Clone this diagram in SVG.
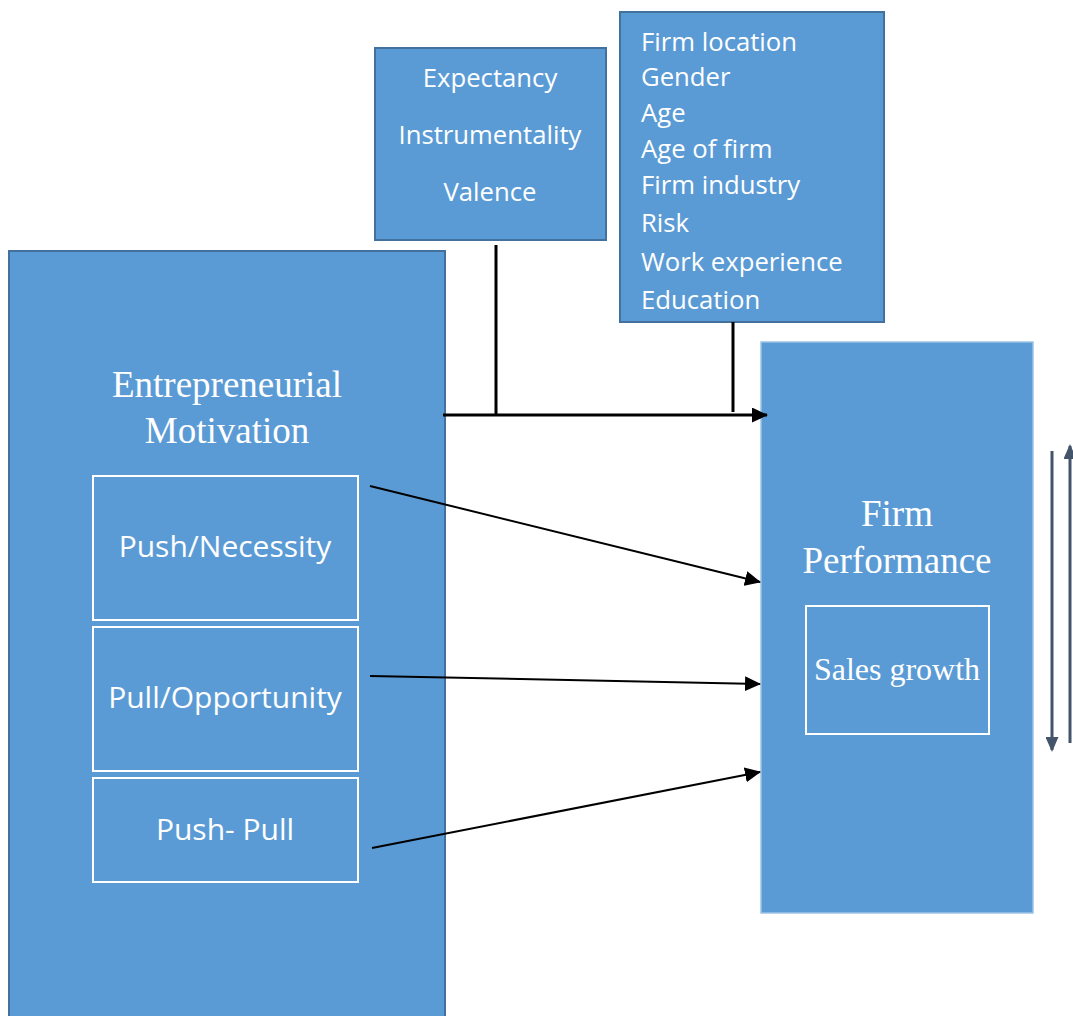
<svg xmlns="http://www.w3.org/2000/svg" width="1073" height="1016" viewBox="0 0 1073 1016">
<style>
.box{fill:#5B9BD5;stroke:#41719C;stroke-width:2}
.fp{fill:#5B9BD5;stroke:#9DC3E6;stroke-width:1.5}
.inner{fill:none;stroke:#FFFFFF;stroke-width:2}
.sans{font-family:"Open Sans","Liberation Sans",sans-serif;fill:#FFFFFF;font-size:25.7px}
.big{font-size:30px}
.serif{font-family:"Liberation Serif","Times New Roman",serif;fill:#FFFFFF}
.conn{stroke:#000000;fill:none}
.side{stroke:#44546A;stroke-width:3;fill:none}
</style>
<defs>
<marker id="ahBig" markerWidth="16" markerHeight="15" refX="15" refY="7.5" orient="auto" markerUnits="userSpaceOnUse"><path d="M0,0 L16,7.5 L0,15 Z" fill="#000"/></marker>
<marker id="ahs" markerWidth="15" markerHeight="13" refX="13" refY="6.5" orient="auto" markerUnits="userSpaceOnUse"><path d="M0,0 L15,6.5 L0,13 Z" fill="#44546A"/></marker>
</defs>
<g id="vie">
<rect class="box" x="375" y="48" width="231" height="192"/>
<text class="sans" x="490" y="87" text-anchor="middle">Expectancy</text>
<text class="sans" x="490" y="144" text-anchor="middle">Instrumentality</text>
<text class="sans" x="490" y="201" text-anchor="middle">Valence</text>
</g>
<g id="controls">
<rect class="box" x="620" y="12" width="264" height="310"/>
<text class="sans" x="641" y="51">Firm location</text>
<text class="sans" x="641" y="86">Gender</text>
<text class="sans" x="641" y="122">Age</text>
<text class="sans" x="641" y="158">Age of firm</text>
<text class="sans" x="641" y="194">Firm industry</text>
<text class="sans" x="641" y="232">Risk</text>
<text class="sans" x="641" y="271">Work experience</text>
<text class="sans" x="641" y="309">Education</text>
</g>
<g id="motivation">
<rect class="box" x="9" y="251" width="436" height="780"/>
<text class="serif" font-size="37" x="227" y="397" text-anchor="middle">Entrepreneurial</text>
<text class="serif" font-size="37" x="227" y="443" text-anchor="middle">Motivation</text>
<g id="push">
<rect class="inner" x="93" y="476" width="265" height="144"/>
<text class="sans big" x="225" y="557" text-anchor="middle">Push/Necessity</text>
</g>
<g id="pull">
<rect class="inner" x="93" y="627" width="265" height="144"/>
<text class="sans big" x="225" y="708" text-anchor="middle">Pull/Opportunity</text>
</g>
<g id="pushpull">
<rect class="inner" x="93" y="778" width="265" height="104"/>
<text class="sans big" x="225" y="840" text-anchor="middle">Push- Pull</text>
</g>
</g>
<g id="performance">
<rect class="fp" x="761" y="342" width="272" height="571"/>
<text class="serif" font-size="37" x="897" y="526" text-anchor="middle">Firm</text>
<text class="serif" font-size="37" x="897" y="573" text-anchor="middle">Performance</text>
<g id="sales">
<rect class="inner" x="806" y="606" width="183" height="128"/>
<text class="serif" font-size="32" x="897" y="680" text-anchor="middle">Sales growth</text>
</g>
</g>
<g id="connectors">
<line class="conn" stroke-width="3" x1="496" y1="245" x2="496" y2="416"/>
<line class="conn" stroke-width="3" x1="733" y1="322" x2="733" y2="412"/>
<line class="conn" stroke-width="3" x1="443" y1="415" x2="767" y2="415" marker-end="url(#ahBig)"/>
<line class="conn" stroke-width="2" x1="370" y1="486" x2="760" y2="582" marker-end="url(#ahBig)"/>
<line class="conn" stroke-width="2" x1="370" y1="676" x2="760" y2="684" marker-end="url(#ahBig)"/>
<line class="conn" stroke-width="2" x1="372" y1="848" x2="760" y2="772" marker-end="url(#ahBig)"/>
<line class="side" x1="1052" y1="451" x2="1052" y2="750" marker-end="url(#ahs)"/>
<line class="side" x1="1070" y1="743" x2="1070" y2="446" marker-end="url(#ahs)"/>
</g>
</svg>
